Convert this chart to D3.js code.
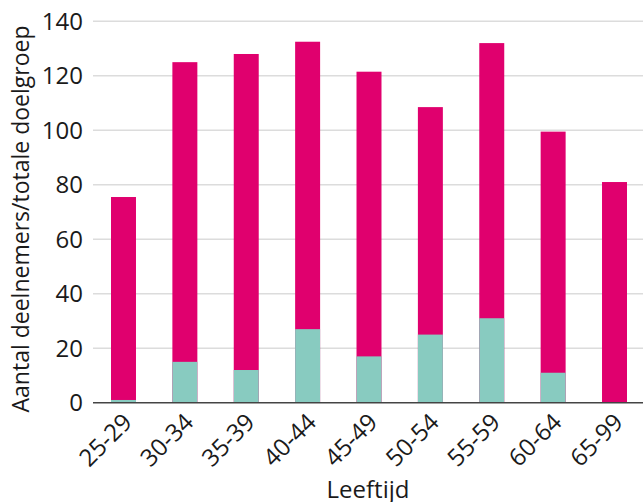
<!DOCTYPE html>
<html>
<head>
<meta charset="utf-8">
<script src="https://cdn.jsdelivr.net/npm/d3@7"></script>
<style>
  html, body { margin: 0; padding: 0; background: #fff; }
  svg { display: block; font-family: "Open Sans", Lato, sans-serif; }
</style>
</head>
<body>
<svg id="chart" width="643" height="502"></svg>
<script>
const categories = ["25-29", "30-34", "35-39", "40-44", "45-49", "50-54", "55-59", "60-64", "65-99"];
const totaleDoelgroep = [75.5, 125, 128, 132.5, 121.5, 108.5, 132, 99.5, 81];
const deelnemers = [1, 15, 12, 27, 17, 25, 31, 11, 0];
const yTicks = [0, 20, 40, 60, 80, 100, 120, 140];
const yTitle = "Aantal deelnemers/totale doelgroep";
const xTitle = "Leeftijd";

(function () {
const svg = d3.select("#chart");
const W = 643;
const mLeft = 93, mTop = 21.3, mBottom = 402.7;
const fs = 24;

const x = d3.scaleBand().domain(categories).range([92.8, 645.2]).paddingInner(0.593).paddingOuter(0.2965);
const y = d3.scaleLinear().domain([0, 140]).range([mBottom, mTop]);

// gridlines
svg.append("g").selectAll("line").data(yTicks.filter(d => d > 0)).join("line")
  .attr("x1", mLeft).attr("x2", W)
  .attr("y1", d => y(d)).attr("y2", d => y(d))
  .attr("stroke", "#dcdcdc").attr("stroke-width", 1.5);

// y tick labels
svg.append("g").selectAll("text").data(yTicks).join("text")
  .attr("x", 83).attr("y", d => y(d)).attr("dy", "0.36em")
  .attr("text-anchor", "end").attr("font-size", fs).attr("fill", "#1a1a1a")
  .text(d => d);

// bars: total
svg.append("g").selectAll("rect").data(categories).join("rect")
  .attr("x", d => x(d)).attr("width", x.bandwidth())
  .attr("y", (d, i) => y(totaleDoelgroep[i]))
  .attr("height", (d, i) => y(0) - y(totaleDoelgroep[i]))
  .attr("fill", "#e0006e");

// bars: deelnemers
svg.append("g").selectAll("rect").data(categories).join("rect")
  .attr("x", d => x(d)).attr("width", x.bandwidth())
  .attr("y", (d, i) => y(deelnemers[i]))
  .attr("height", (d, i) => y(0) - y(deelnemers[i]))
  .attr("fill", "#88cbc0");

// baseline
svg.append("line").attr("x1", mLeft).attr("x2", W)
  .attr("y1", y(0)).attr("y2", y(0))
  .attr("stroke", "#444").attr("stroke-width", 1.5);

// x tick labels
svg.append("g").selectAll("text").data(categories).join("text")
  .attr("transform", d => `translate(${x(d) + x.bandwidth() / 2 + 10},${mBottom + 21}) rotate(-45)`)
  .attr("text-anchor", "end").attr("font-size", fs).attr("fill", "#1a1a1a")
  .text(d => d);

// axis titles
svg.append("text")
  .attr("transform", `translate(29,219) rotate(-90)`)
  .attr("text-anchor", "middle").attr("font-size", 23).attr("fill", "#1a1a1a")
  .text(yTitle);

svg.append("text")
  .attr("x", (mLeft + W) / 2).attr("y", 498)
  .attr("text-anchor", "middle").attr("font-size", fs).attr("fill", "#1a1a1a")
  .text(xTitle);
})();
</script>
</body>
</html>
